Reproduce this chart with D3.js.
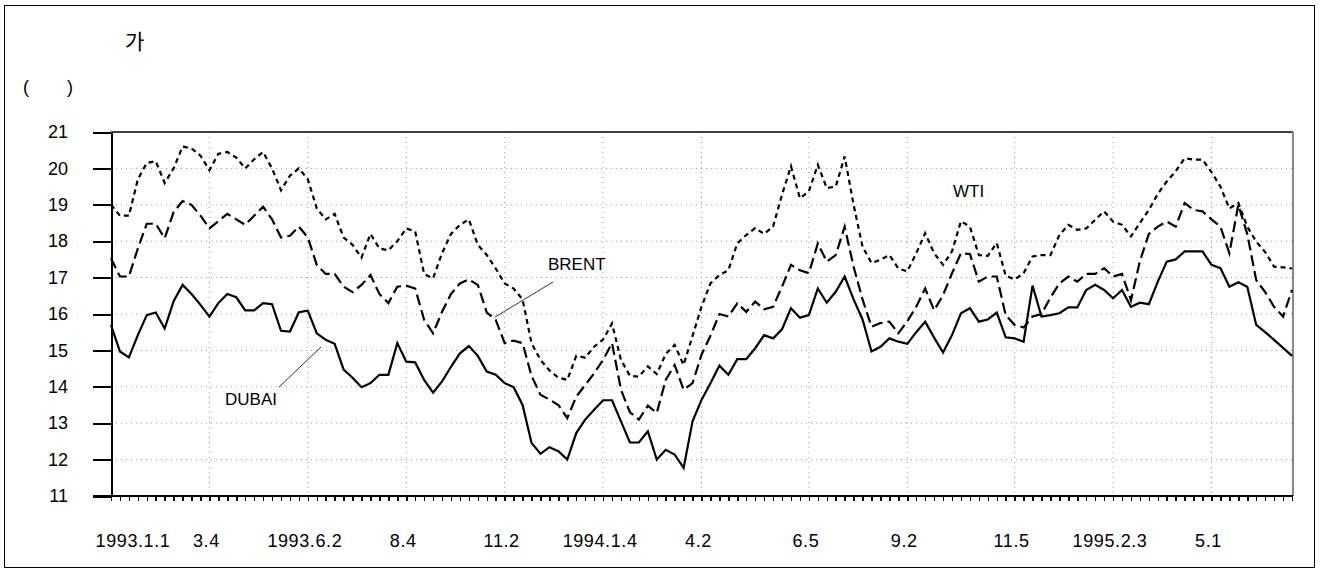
<!DOCTYPE html>
<meta charset="utf-8">
<style>
  body { margin: 0; background: #fff; }
  text { font-family: "Liberation Sans", Arial, sans-serif; fill: #000; }
  .axis path, .axis line { stroke: #000; shape-rendering: crispEdges; }
  .grid line { stroke: #999; stroke-width: 1; stroke-dasharray: 1,4; }
</style>
<body>
<svg width="1321" height="574"></svg>
<script src="https://cdn.jsdelivr.net/npm/d3@7"></script>
<script>
// weekly prices, 1993.1 - 1995.6 ($/bbl)
var wti = [19.0,18.7,18.7,19.7,20.15,20.2,19.6,20.0,20.6,20.55,20.35,19.95,20.4,20.45,20.3,20.0,20.25,20.45,20.0,19.4,
  19.8,20.0,19.7,18.9,18.6,18.75,18.1,17.9,17.55,18.2,17.8,17.75,18.0,18.35,18.27,17.1,16.98,17.67,18.2,18.45,
  18.6,17.9,17.62,17.25,16.84,16.7,16.4,15.2,14.74,14.45,14.25,14.19,14.85,14.8,15.1,15.3,15.74,14.74,14.3,14.28,
  14.56,14.35,14.9,15.15,14.6,15.4,16.2,16.84,17.07,17.2,17.94,18.17,18.36,18.2,18.4,19.28,20.06,19.18,19.37,20.1,
  19.46,19.5,20.33,19.0,17.85,17.4,17.49,17.62,17.25,17.17,17.67,18.22,17.67,17.35,17.72,18.55,18.4,17.62,17.6,17.95,
  17.05,16.95,17.12,17.58,17.62,17.62,18.17,18.45,18.31,18.35,18.59,18.82,18.54,18.45,18.13,18.5,18.86,19.3,19.64,19.92,
  20.28,20.24,20.24,19.9,19.5,18.9,19.05,18.4,17.99,17.7,17.3,17.28,17.25];
var brent = [17.53,17.03,17.03,17.8,18.48,18.48,18.08,18.8,19.1,19.0,18.7,18.35,18.55,18.75,18.6,18.45,18.7,18.95,18.6,18.1,
  18.15,18.4,18.1,17.35,17.1,17.1,16.75,16.6,16.8,17.07,16.55,16.3,16.75,16.78,16.7,15.84,15.47,16.06,16.55,16.84,
  16.95,16.8,16.04,15.84,15.2,15.27,15.2,14.3,13.78,13.65,13.5,13.14,13.73,14.05,14.37,14.74,15.2,13.92,13.3,13.1,
  13.48,13.28,14.19,14.6,13.92,14.1,14.88,15.4,16.0,15.93,16.29,16.06,16.34,16.13,16.2,16.75,17.35,17.2,17.12,17.94,
  17.44,17.62,18.4,17.3,16.4,15.65,15.75,15.79,15.47,15.8,16.2,16.7,16.1,16.52,17.12,17.67,17.65,16.89,17.03,17.03,
  15.97,15.7,15.63,15.93,16.0,16.45,16.84,17.03,16.89,17.1,17.1,17.26,17.03,17.1,16.38,17.45,18.2,18.4,18.54,18.4,
  19.05,18.86,18.82,18.6,18.4,17.67,19.0,18.2,16.93,16.6,16.2,15.93,16.66];
var dubai = [15.7,14.97,14.81,15.42,15.97,16.04,15.6,16.35,16.8,16.55,16.25,15.93,16.3,16.55,16.46,16.1,16.1,16.3,16.27,15.54,
  15.52,16.05,16.09,15.47,15.29,15.18,14.47,14.25,13.99,14.1,14.33,14.33,15.2,14.69,14.67,14.19,13.84,14.15,14.55,14.92,
  15.12,14.85,14.42,14.33,14.1,13.99,13.5,12.46,12.16,12.34,12.23,12.0,12.73,13.1,13.37,13.63,13.63,13.05,12.47,12.47,
  12.78,12.0,12.27,12.14,11.77,13.05,13.64,14.1,14.58,14.33,14.76,14.76,15.06,15.42,15.33,15.58,16.16,15.9,15.97,16.7,
  16.31,16.61,17.03,16.4,15.85,14.97,15.1,15.33,15.24,15.18,15.5,15.79,15.35,14.94,15.42,16.02,16.16,15.79,15.85,16.04,
  15.36,15.33,15.24,16.78,15.93,15.97,16.02,16.18,16.18,16.66,16.8,16.66,16.43,16.66,16.2,16.31,16.27,16.89,17.44,17.5,
  17.72,17.72,17.72,17.35,17.26,16.75,16.87,16.75,15.7,15.5,15.29,15.07,14.85];

var dateLabels = ["1993.1.1","3.4","1993.6.2","8.4","11.2","1994.1.4","4.2","6.5","9.2","11.5","1995.2.3","5.1"];
var dateIndex = [0,11,22,33,44,55,66,78,89,101,112,123];
var yTicks = [11,12,13,14,15,16,17,18,19,20,21];

var pLeft = 111, pRight = 1292, pTop = 132, pBottom = 496;
var n = dubai.length;

var svg = d3.select("svg");

var x = d3.scaleLinear().domain([0, n - 1]).range([pLeft, pRight]);
var y = d3.scaleLinear().domain([11, 21]).range([pBottom, pTop]);

// outer frame
svg.append("rect")
  .attr("x", 4.5).attr("y", 5.5).attr("width", 1310).attr("height", 562)
  .attr("fill", "none").attr("stroke", "#000").attr("stroke-width", 1);

// titles (korean glyphs as in the source)
svg.append("text").attr("x", 125).attr("y", 49)
  .style("font-family", "'Noto Sans CJK KR', sans-serif").style("font-size", "21px").text("가");
svg.append("text").attr("x", 23).attr("y", 93).style("font-size", "18px").text("(");
svg.append("text").attr("x", 67).attr("y", 93).style("font-size", "18px").text(")");

// grid
var grid = svg.append("g").attr("class", "grid");
grid.selectAll(".h").data(yTicks.slice(1, -1)).enter().append("line")
  .attr("x1", pLeft).attr("x2", pRight)
  .attr("y1", function (d) { return y(d); }).attr("y2", function (d) { return y(d); });
grid.selectAll(".v").data(dateIndex.slice(1)).enter().append("line")
  .attr("y1", pTop).attr("y2", pBottom)
  .attr("x1", function (d) { return x(d); }).attr("x2", function (d) { return x(d); });

// plot border top / right
svg.append("line").attr("x1", pLeft).attr("x2", pRight + 1).attr("y1", pTop).attr("y2", pTop)
  .attr("stroke", "#000").attr("stroke-width", 1.5);
svg.append("line").attr("x1", pRight + 1).attr("x2", pRight + 1).attr("y1", pTop).attr("y2", pBottom)
  .attr("stroke", "#888").attr("stroke-width", 2);

// y axis
var yAxis = svg.append("g").attr("class", "axis")
  .attr("transform", "translate(" + pLeft + ",0)")
  .call(d3.axisLeft(y).tickValues(yTicks).tickSize(18).tickPadding(25).tickSizeOuter(0));
yAxis.select(".domain").attr("stroke-width", 2);
yAxis.selectAll(".tick line").attr("stroke-width", 2);
yAxis.selectAll("text").style("font-size", "18px").attr("fill", "#000")
  .style("font-family", "'Liberation Sans', Arial, sans-serif");

// x axis: one tick per week
var xAxis = svg.append("g").attr("class", "axis")
  .attr("transform", "translate(0," + pBottom + ")")
  .call(d3.axisBottom(x).tickValues(d3.range(n)).tickSize(5).tickFormat("").tickSizeOuter(0));
xAxis.select(".domain").attr("stroke-width", 2).attr("d", "M" + (pLeft - 18) + ",0H" + (pRight + 1));
xAxis.selectAll(".tick line").attr("stroke-width", 1.5);

svg.append("g").selectAll("text").data(dateLabels).enter().append("text")
  .attr("x", function (d, i) { return i === 0 ? x(dateIndex[i]) + 22 : x(dateIndex[i]) - 3; })
  .attr("y", 547)
  .attr("text-anchor", "middle")
  .style("font-size", "18px")
  .style("letter-spacing", "0.6px")
  .text(function (d) { return d; });

// series
var line = d3.line().x(function (d, i) { return x(i); }).y(function (d) { return y(d); });
var series = [
  { values: wti, dash: "5,4" },
  { values: brent, dash: "11,5" },
  { values: dubai, dash: null }
];
svg.selectAll(".series").data(series).enter().append("path")
  .attr("d", function (d) { return line(d.values); })
  .attr("fill", "none").attr("stroke", "#000").attr("stroke-width", 2.2)
  .attr("stroke-linejoin", "miter")
  .attr("stroke-dasharray", function (d) { return d.dash; });

// series labels with leader lines
svg.append("text").attr("x", 548).attr("y", 270).style("font-size", "17px").text("BRENT");
svg.append("line").attr("x1", 495).attr("y1", 317).attr("x2", 553).attr("y2", 282)
  .attr("stroke", "#000").attr("stroke-width", 0.8);
svg.append("text").attr("x", 225).attr("y", 405).style("font-size", "17px").text("DUBAI");
svg.append("line").attr("x1", 279).attr("y1", 387).attr("x2", 321).attr("y2", 347)
  .attr("stroke", "#000").attr("stroke-width", 0.8);
svg.append("text").attr("x", 953).attr("y", 197).style("font-size", "17px").text("WTI");
</script>
</body>
